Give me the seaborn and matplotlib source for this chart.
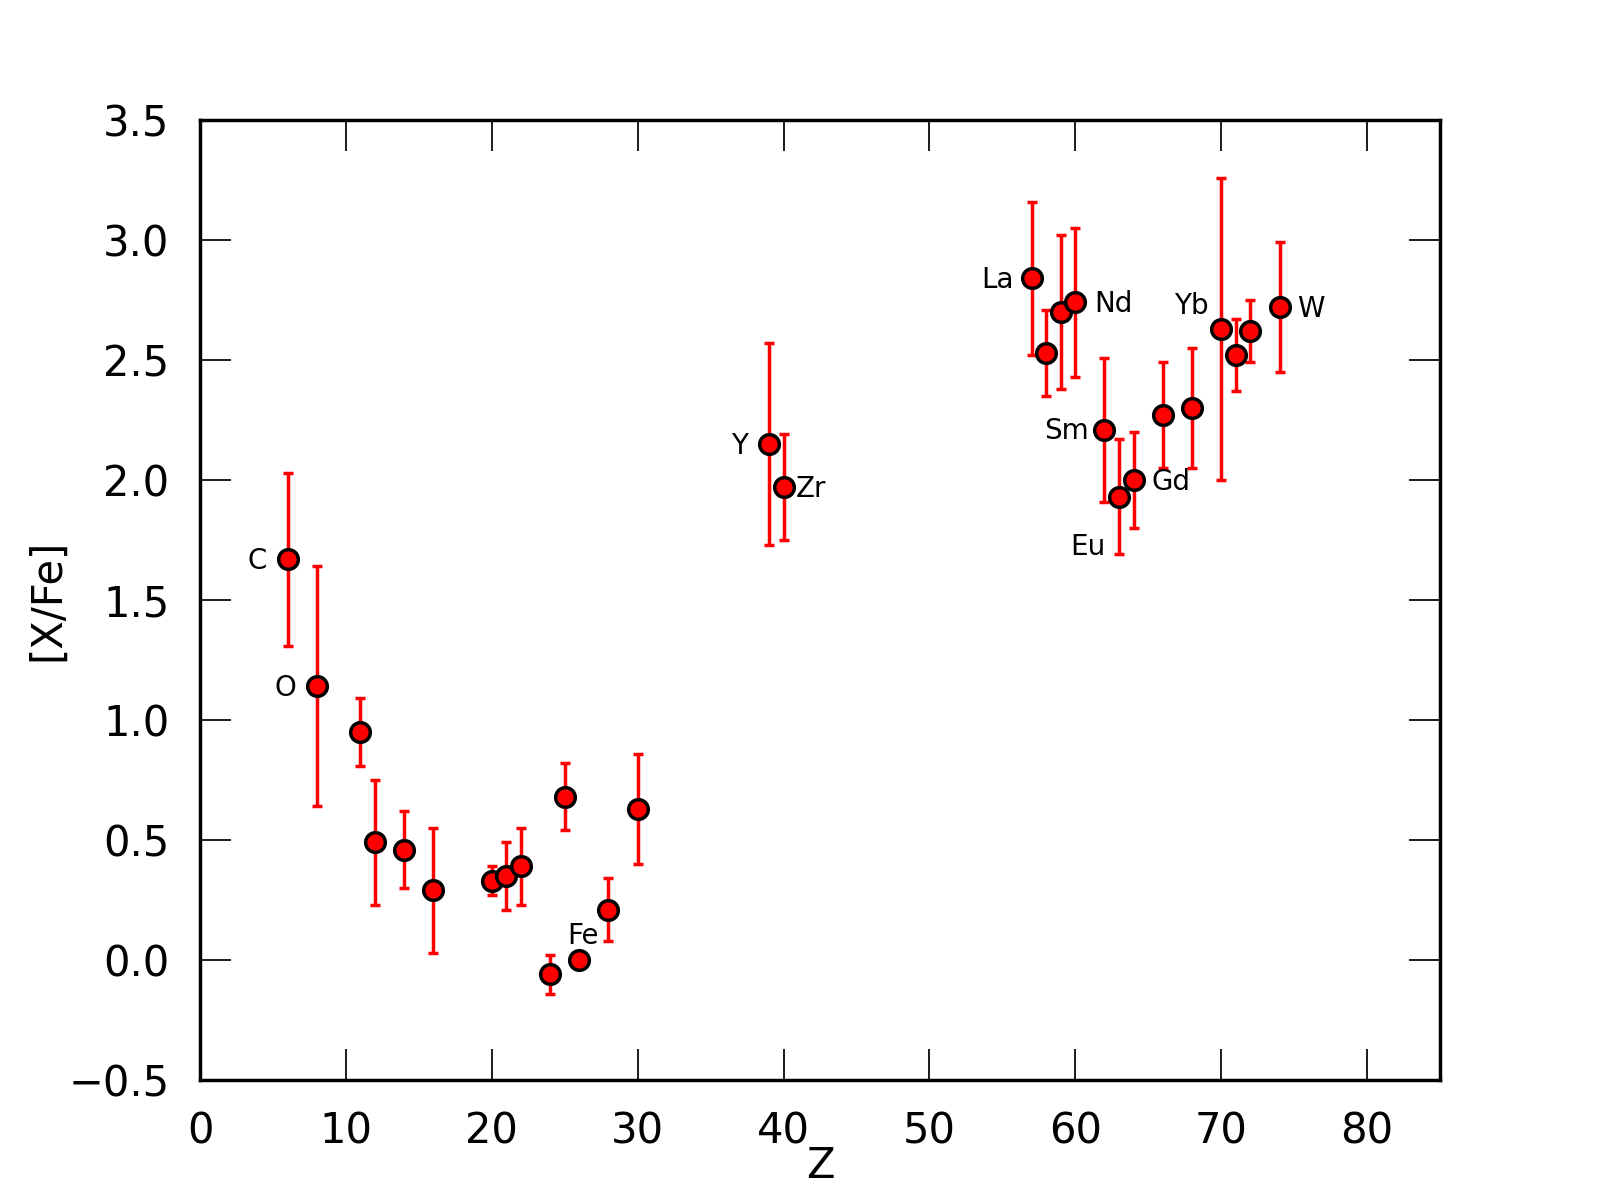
import numpy as np
import pandas as pd
import matplotlib
matplotlib.use("Agg")
import matplotlib.pyplot as plt
import seaborn as sns

# abundance pattern
elements = ["C", "O", "Na", "Mg", "Si", "S", "Ca", "Sc", "Ti", "Cr", "Mn", "Fe", "Ni", "Zn",
            "Y", "Zr", "La", "Ce", "Pr", "Nd", "Sm", "Eu", "Gd", "Dy", "Er", "Yb", "Lu", "Hf", "W"]
Z = [6, 8, 11, 12, 14, 16, 20, 21, 22, 24, 25, 26, 28, 30,
     39, 40, 57, 58, 59, 60, 62, 63, 64, 66, 68, 70, 71, 72, 74]
xfe = [1.67, 1.14, 0.95, 0.49, 0.46, 0.29, 0.33, 0.35, 0.39, -0.06, 0.68, 0.00, 0.21, 0.63,
       2.15, 1.97, 2.84, 2.53, 2.70, 2.74, 2.21, 1.93, 2.00, 2.27, 2.30, 2.63, 2.52, 2.62, 2.72]
err = [0.36, 0.50, 0.14, 0.26, 0.16, 0.26, 0.06, 0.14, 0.16, 0.08, 0.14, 0.00, 0.13, 0.23,
       0.42, 0.22, 0.32, 0.18, 0.32, 0.31, 0.30, 0.24, 0.20, 0.22, 0.25, 0.63, 0.15, 0.13, 0.27]

# which points get a name, and where the name sits (offset in points, alignment)
label_pos = {
    "C":  (-6, -0.5, "right", "center"),
    "O":  (-6, -0.5, "right", "center"),
    "Fe": (1, 3, "center", "bottom"),
    "Y":  (-6, -0.5, "right", "center"),
    "Zr": (3.5, -0.5, "left", "center"),
    "La": (-5, -0.5, "right", "center"),
    "Nd": (5.5, -0.5, "left", "center"),
    "Sm": (-4.5, -0.5, "right", "center"),
    "Eu": (-4, -14.5, "right", "center"),
    "Gd": (5.2, -0.5, "left", "center"),
    "Yb": (-3.7, 6.5, "right", "center"),
    "W":  (5, -0.5, "left", "center"),
}

df = pd.DataFrame({"el": elements, "Z": Z, "xfe": xfe, "err": err})

sns.set_theme(style="white")
plt.rcParams["font.family"] = ["DejaVu Sans"]
plt.rcParams["axes.labelcolor"] = "black"
plt.rcParams["text.color"] = "black"

fig, ax = plt.subplots(figsize=(6.4, 4.8), dpi=250)
fig.subplots_adjust(left=0.125, right=0.9, bottom=0.1, top=0.9)

has_err = df[df.err > 0]
ax.errorbar(has_err.Z, has_err.xfe, yerr=has_err.err, fmt="none", ecolor="red",
            elinewidth=1.0, capsize=1.3, capthick=1.0, zorder=2)
sns.scatterplot(data=df, x="Z", y="xfe", color="red", edgecolor="black", linewidth=1.0,
                s=32, ax=ax, zorder=3, legend=False)

for _, row in df.iterrows():
    if row.el in label_pos:
        dx, dy, ha, va = label_pos[row.el]
        ax.annotate(row.el, (row.Z, row.xfe), xytext=(dx, dy), textcoords="offset points",
                    ha=ha, va=va, fontsize=8, color="black")

ax.set_xlim(0, 85)
ax.set_ylim(-0.5, 3.5)
ax.set_xticks(np.arange(0, 81, 10))
ax.set_yticks(np.arange(-0.5, 3.51, 0.5))
ax.set_xlabel("Z", fontsize=12, labelpad=-2.2, color="black")
ax.set_ylabel("[X/Fe]", fontsize=12, labelpad=0, color="black")

ax.tick_params(direction="in", length=9, width=0.5, pad=8.8, labelsize=12,
               top=True, right=True, bottom=True, left=True, color="black", labelcolor="black")
for sp in ax.spines.values():
    sp.set_visible(True)
    sp.set_color("black")
    sp.set_linewidth(1.0)
ax.set_facecolor("white")
ax.grid(False)

fig.savefig("out.png", dpi=250, facecolor="white")
